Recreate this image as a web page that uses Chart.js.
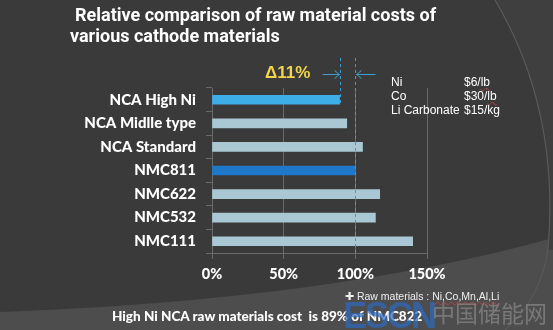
<!DOCTYPE html>
<html><head><meta charset="utf-8">
<script src="https://cdn.jsdelivr.net/npm/chart.js@4/dist/chart.umd.min.js"></script>
<style>
html,body{margin:0;padding:0;background:#3a3a3a;}
#wrap{position:relative;width:553px;height:330px;overflow:hidden;}
#c{position:absolute;left:0;top:0;}
.t{position:absolute;white-space:nowrap;color:#fff;line-height:1;}
.title{font-family:Roboto,"Liberation Sans",sans-serif;font-weight:700;font-size:18px;}
.leg{font-family:"Liberation Sans",Arial,sans-serif;font-size:12px;}
.sq{text-decoration:underline wavy #b04545;text-decoration-thickness:1px;}
</style></head><body>
<div id="wrap">
<canvas id="c" width="553" height="330"></canvas>
<div class="t title" style="left:75px;top:6px;">Relative comparison of raw material costs of</div>
<div class="t title" style="left:70px;top:27px;">various cathode materials</div>
<div class="t" id="delta" style="left:265px;top:64px;font-family:'Liberation Sans',Arial,sans-serif;font-weight:700;font-size:17px;color:#f2d54a;">Δ11%</div>
<div id="legend"></div>
<div class="t" style="left:345px;top:291px;font-family:'Liberation Sans',Arial,sans-serif;font-size:10.5px;color:#eee;">✚ Raw materials : <span class="sq">Ni,Co,Mn,Al,Li</span></div>
<div class="t" style="left:112px;top:310px;font-family:Lato,sans-serif;font-weight:900;font-size:13.5px;">High Ni NCA raw materials cost &nbsp;is 89% of NMC822</div>
<div class="t" style="left:343px;top:298px;font-family:'Liberation Sans',Arial,sans-serif;font-weight:700;font-size:36px;color:rgba(45,105,190,0.7);letter-spacing:-2px;">ESCN</div>
<div class="t" style="left:432px;top:301px;font-family:'Noto Sans CJK SC',sans-serif;font-size:23px;color:rgba(150,150,150,0.6);">中国储能网</div>
</div>
<script>
const categories = ["NCA High Ni","NCA Midlle type","NCA Standard","NMC811","NMC622","NMC532","NMC111"];
const costs = [89, 94, 105, 100, 117, 114, 140];
const barColors = ["#3eaee8","#a9c8d3","#a9c8d3","#1f77c9","#a9c8d3","#a9c8d3","#a9c8d3"];
const xTicks = [0, 50, 100, 150];
const priceItems = ["Ni","Co","Li Carbonate"];
const priceValues = ["$6/lb","$30/lb","$15/kg"];

const leg = document.getElementById('legend');
priceItems.forEach((n,i)=>{
  const a=document.createElement('div');a.className='t leg';a.style.left='391px';a.style.top=(76+i*14)+'px';a.textContent=n;leg.appendChild(a);
  const b=document.createElement('div');b.className='t leg';b.style.left='464px';b.style.top=(76+i*14)+'px';
  const v=priceValues[i];const m=v.match(/^(\$\d+\/)(lb)$/);
  if(m){b.innerHTML=m[1]+'<span class="sq">'+m[2]+'</span>';}else{b.textContent=v;}
  leg.appendChild(b);
});

const bgPlugin = {
  id:'bg',
  beforeDraw(chart){
    const ctx=chart.ctx;ctx.save();
    ctx.fillStyle='#3a3a3a';ctx.fillRect(0,0,553,330);
    ctx.fillStyle='#4d4d4d';
    ctx.beginPath();ctx.moveTo(0,312);ctx.quadraticCurveTo(330,300,553,238);ctx.lineTo(553,330);ctx.lineTo(0,330);ctx.closePath();ctx.fill();
    ctx.fillStyle='#3f3f3f';
    ctx.beginPath();ctx.moveTo(495,0);ctx.quadraticCurveTo(560,110,548,250);ctx.lineTo(553,250);ctx.lineTo(553,0);ctx.closePath();ctx.fill();
    ctx.strokeStyle='#5a5a5a';ctx.lineWidth=1.2;
    ctx.beginPath();ctx.moveTo(495,0);ctx.quadraticCurveTo(560,110,548,250);ctx.quadraticCurveTo(540,300,505,330);ctx.stroke();
    ctx.restore();
  }
};

const markPlugin = {
  id:'marks',
  afterDatasetsDraw(chart){
    const ctx=chart.ctx, xs=chart.scales.x, ys=chart.scales.y, ca=chart.chartArea;
    const xa=Math.round(xs.getPixelForValue(costs[0]))+0.5;
    const xb=Math.round(xs.getPixelForValue(costs[3]))+0.5;
    const yBar=ys.getPixelForValue(0);
    ctx.save();
    ctx.strokeStyle='#3a9fcc';ctx.lineWidth=1;ctx.setLineDash([3,3]);
    ctx.beginPath();ctx.moveTo(xa,58);ctx.lineTo(xa,yBar+5);ctx.stroke();
    ctx.beginPath();ctx.moveTo(xb,58);ctx.lineTo(xb,ca.bottom);ctx.stroke();
    ctx.setLineDash([]);
    const ya=74.5;
    ctx.beginPath();ctx.moveTo(xa-18,ya);ctx.lineTo(xa-1,ya);ctx.moveTo(xa-6,ya-4);ctx.lineTo(xa-1,ya);ctx.lineTo(xa-6,ya+4);ctx.stroke();
    ctx.beginPath();ctx.moveTo(xb+20,ya);ctx.lineTo(xb+1,ya);ctx.moveTo(xb+6,ya-4);ctx.lineTo(xb+1,ya);ctx.lineTo(xb+6,ya+4);ctx.stroke();
    ctx.restore();
  }
};

new Chart(document.getElementById('c'),{
  type:'bar',
  data:{labels:categories,datasets:[{data:costs,backgroundColor:barColors,borderWidth:0,barThickness:9}]},
  options:{
    indexAxis:'y',responsive:false,animation:false,
    layout:{padding:{left:0,top:88,right:126,bottom:37}},
    plugins:{legend:{display:false},tooltip:{enabled:false}},
    scales:{
      x:{min:0,max:150,afterBuildTicks(s){s.ticks=xTicks.map(v=>({value:v}));},
        afterFit(s){s.height=40;},
        grid:{color:'#6a6a6a',lineWidth:1,tickLength:6,drawOnChartArea:true},
        border:{color:'#6a6a6a'},
        ticks:{color:'#fff',padding:7,font:{family:'Lato',weight:'900',size:14.5},callback:v=>v+'%'}},
      y:{afterFit(s){s.width=212;},
        grid:{drawOnChartArea:false,color:'#6a6a6a',tickLength:6,offset:true},
        border:{color:'#6a6a6a'},
        ticks:{color:'#fff',padding:10,font:{family:'Lato',weight:'900',size:15}}}
    }
  },
  plugins:[bgPlugin,markPlugin]
});
</script>
</body></html>
